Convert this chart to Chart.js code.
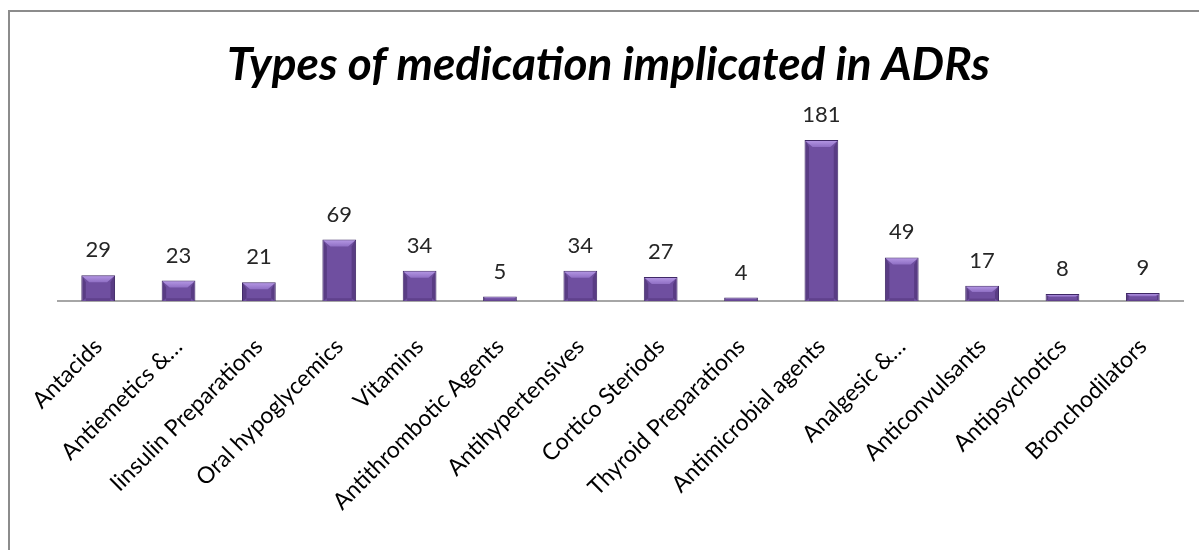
<!DOCTYPE html>
<html>
<head>
<meta charset="utf-8">
<script src="https://cdn.jsdelivr.net/npm/chart.js@4.4.1/dist/chart.umd.min.js"></script>
<style>
  html, body { margin: 0; padding: 0; background: #ffffff; }
  #wrap { width: 1199px; height: 550px; position: relative; }
</style>
</head>
<body>
<div id="wrap"><canvas id="c" width="1199" height="550"></canvas></div>
<script>
const categories = [
  "Antacids", "Antiemetics &\u2026", "Iinsulin Preparations", "Oral hypoglycemics",
  "Vitamins", "Antithrombotic Agents", "Antihypertensives", "Cortico Steriods",
  "Thyroid Preparations", "Antimicrobial agents", "Analgesic &\u2026", "Anticonvulsants",
  "Antipsychotics", "Bronchodilators"
];
const adrCounts = [29, 23, 21, 69, 34, 5, 34, 27, 4, 181, 49, 17, 8, 9];
const chartTitle = "Types of medication implicated in ADRs";

const FONT = "Lato, 'Open Sans', sans-serif";

const frame = {
  id: 'frame',
  beforeDraw(chart) {
    const ctx = chart.ctx;
    ctx.save();
    ctx.fillStyle = '#ffffff';
    ctx.fillRect(0, 0, chart.width, chart.height);
    ctx.strokeStyle = '#8c8c8c';
    ctx.lineWidth = 2;
    ctx.strokeRect(9, 11, 1400, 800);
    ctx.restore();
  }
};

const bevel = {
  id: 'bevel',
  afterDatasetsDraw(chart) {
    const ctx = chart.ctx;
    const meta = chart.getDatasetMeta(0);
    ctx.save();
    meta.data.forEach((bar) => {
      const w = bar.width, l = bar.x - w / 2, r = bar.x + w / 2;
      const top = bar.y, bottom = bar.base;
      const h = bottom - top;
      const bv = Math.min(7, h / 2.5);
      const g = ctx.createLinearGradient(0, top, 0, top + bv);
      g.addColorStop(0, '#b79ae6');
      g.addColorStop(1, '#8f6fc4');
      ctx.fillStyle = g;
      ctx.beginPath();
      ctx.moveTo(l + 1, top + 1);
      ctx.lineTo(r - 1, top + 1);
      ctx.lineTo(r - 1 - bv, top + bv);
      ctx.lineTo(l + 1 + bv, top + bv);
      ctx.closePath();
      ctx.fill();
      ctx.fillStyle = 'rgba(50,25,80,0.35)';
      ctx.beginPath();
      ctx.moveTo(l + 1, top + 1);
      ctx.lineTo(l + 1 + bv * 0.5, top + bv);
      ctx.lineTo(l + 1 + bv * 0.5, bottom - bv * 0.4);
      ctx.lineTo(l + 1, bottom);
      ctx.closePath();
      ctx.fill();
      ctx.beginPath();
      ctx.moveTo(r - 1, top + 1);
      ctx.lineTo(r - 1 - bv * 0.5, top + bv);
      ctx.lineTo(r - 1 - bv * 0.5, bottom - bv * 0.4);
      ctx.lineTo(r - 1, bottom);
      ctx.closePath();
      ctx.fill();
      ctx.fillStyle = 'rgba(50,25,80,0.25)';
      ctx.fillRect(l + 1 + bv * 0.5, bottom - bv * 0.4, w - 2 - bv, bv * 0.4);
    });
    ctx.restore();
  }
};

const valueLabels = {
  id: 'valueLabels',
  afterDatasetsDraw(chart) {
    const ctx = chart.ctx;
    const meta = chart.getDatasetMeta(0);
    const data = chart.data.datasets[0].data;
    ctx.save();
    ctx.font = "22px " + FONT;
    ctx.fillStyle = '#262626';
    ctx.textAlign = 'center';
    ctx.textBaseline = 'middle';
    meta.data.forEach((bar, i) => {
      ctx.fillText(String(data[i]), bar.x, bar.y - 25);
    });
    ctx.restore();
  }
};

new Chart(document.getElementById('c'), {
  type: 'bar',
  data: {
    labels: categories,
    datasets: [{
      data: adrCounts,
      backgroundColor: (ctx) => {
        const el = ctx.element;
        const c = ctx.chart.ctx;
        if (!el || !isFinite(el.x) || !el.width) return '#6f4fa0';
        const g = c.createLinearGradient(el.x - el.width / 2, 0, el.x + el.width / 2, 0);
        g.addColorStop(0, '#5a3d8a');
        g.addColorStop(0.15, '#7050a4');
        g.addColorStop(0.5, '#7555a9');
        g.addColorStop(0.85, '#6c4c9f');
        g.addColorStop(1, '#4e3378');
        return g;
      },
      borderColor: '#3f2866',
      borderWidth: 1,
      barPercentage: 0.42,
      categoryPercentage: 1.0
    }]
  },
  options: {
    responsive: false,
    animation: false,
    layout: { padding: { left: 34, right: 16, top: 0, bottom: 0 } },
    plugins: {
      legend: { display: false },
      tooltip: { enabled: false },
      title: {
        display: true,
        text: chartTitle,
        color: '#000000',
        font: { family: FONT, size: 46, style: 'italic', weight: 'bold' },
        padding: { top: 38, bottom: 4 }
      }
    },
    scales: {
      x: {
        grid: { display: false, drawTicks: false },
        border: { display: true, color: '#a6a6a6', width: 2 },
        ticks: {
          color: '#000000',
          font: { family: FONT, size: 23 },
          minRotation: 45,
          maxRotation: 45,
          padding: 32,
          autoSkip: false
        },
        afterFit: (s) => { s.height = 249; }
      },
      y: {
        display: true,
        min: 0,
        max: 229,
        grid: { display: false, drawTicks: false },
        border: { display: false },
        ticks: { display: false },
        afterFit: (s) => { s.width = 24; }
      }
    }
  },
  plugins: [frame, bevel, valueLabels]
});
</script>
</body>
</html>
